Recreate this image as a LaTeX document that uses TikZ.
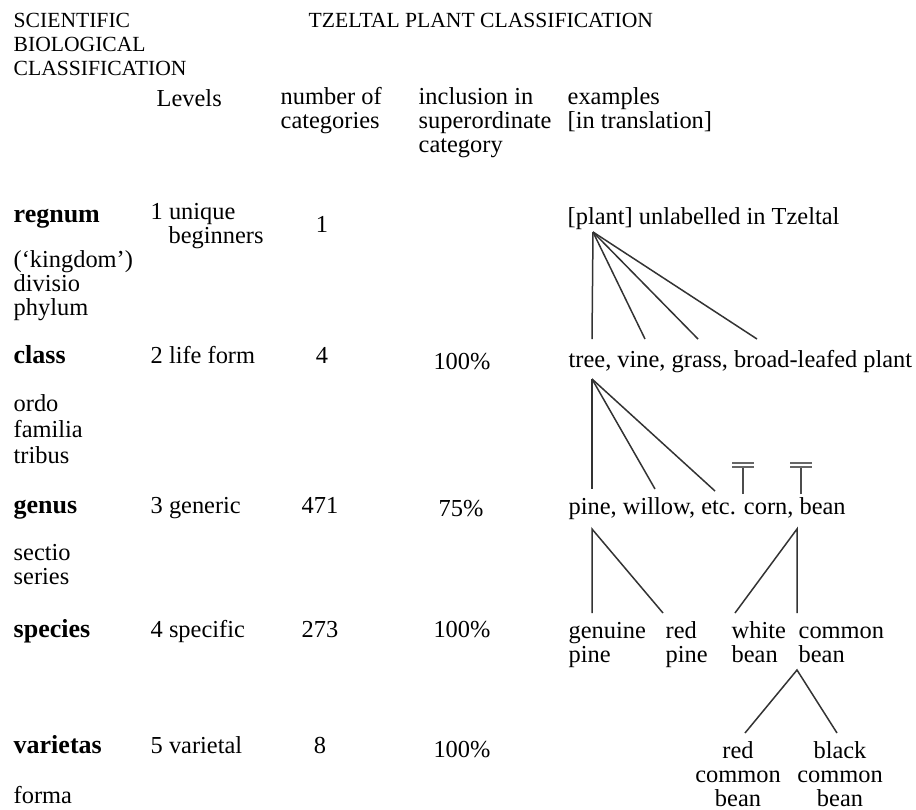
\documentclass[tikz,border=0pt]{standalone}
\usepackage{fontspec}
\setmainfont{Liberation Serif}
\usetikzlibrary{positioning}

\begin{document}
\begin{tikzpicture}[x=0.5pt,y=-0.5pt,line width=0.7pt,
                font={\fontsize{12.2}{11.8}\selectfont},
                txt/.style={inner sep=0pt,anchor=base west,align=left},
                head/.style={txt,font={\fontsize{10.8}{11.8}\selectfont}},
                rank/.style={txt,font={\fontsize{13}{11.8}\selectfont\bfseries}},
                num/.style={inner sep=0pt,anchor=base},
                branch/.style={draw=black!80,line width=0.75pt}]
                \useasboundingbox (0,0) rectangle (916,809);
                % headings (multi-line nodes sit on their last line)
                \node[head] (sci) at (13,75) {SCIENTIFIC\\BIOLOGICAL\\CLASSIFICATION};
                \node[head] (tzeltal) at (308,27) {TZELTAL PLANT CLASSIFICATION};
                \node[txt] (levels) at (156,106) {Levels};
                \node[txt] (number) at (280,128) {number of\\categories};
                \node[txt] (inclusion) at (418,152) {inclusion in\\superordinate\\category};
                \node[txt] (examples) at (567,128) {examples\\{[in translation]}};
                % left columns
                \node[rank] (regnum) at (13,222) {regnum};
                \node[txt] (kingdom) at (13,315) {(`kingdom')\\divisio\\phylum};
                \node[rank] (class) at (13,363) {class};
                \node[txt] (ordo) at (13,463) {ordo\\[1pt]familia\\[1pt]tribus};
                \node[rank] (genus) at (13,513) {genus};
                \node[txt] (sectio) at (13,584) {sectio\\series};
                \node[rank] (species) at (13,637) {species};
                \node[rank] (varietas) at (13,753) {varietas};
                \node[txt] (forma) at (13,803) {forma};
                \node[txt] (lev1) at (150,243) {1 unique\\\hspace*{9pt}beginners};
                \node[txt] (lev2) at (150,363) {2 life form};
                \node[txt] (lev3) at (150,513) {3 generic};
                \node[txt] (lev4) at (150,637) {4 specific};
                \node[txt] (lev5) at (150,753) {5 varietal};
                \node[num] (num1) at (322,232) {1};
                \node[num] (num2) at (322,363) {4};
                \node[num] (num3) at (320,513) {471};
                \node[num] (num4) at (320,637) {273};
                \node[num] (num5) at (320,753) {8};
                \node[num] (inc2) at (462,369) {100\%};
                \node[num] (inc3) at (461,516) {75\%};
                \node[num] (inc4) at (462,637) {100\%};
                \node[num] (inc5) at (462,757) {100\%};
                % examples
                \node[txt] (plant) at (567,224) {[plant] unlabelled in Tzeltal};
                \node[txt] (lifeforms) at (568,367) {tree, vine, grass, broad-leafed plant};
                \node[txt] (generics) at (568,514) {pine, willow, etc. corn, bean};
                \node[txt] (genpine) at (568,662) {genuine\\pine};
                \node[txt] (redpine) at (665,662) {red\\pine};
                \node[txt] (whitebean) at (731,662) {white\\bean};
                \node[txt] (combean) at (798,662) {common\\bean};
                \node[num,align=center] (redcom) at (738,806) {red\\common\\bean};
                \node[num,align=center] (blackcom) at (840,806) {black\\common\\bean};
                % branch points
                \coordinate (p0) at (593,232);
                \coordinate (tree) at (592,339);
                \coordinate (vine) at (645,339);
                \coordinate (grass) at (698,339);
                \coordinate (broad) at (757,339);
                \coordinate (t0) at (592,379);
                \coordinate (pine) at (592,489);
                \coordinate (willow) at (655,489);
                \coordinate (etc) at (715,491);
                \coordinate (pine0) at (592,529);
                \coordinate (pine1) at (592,613);
                \coordinate (pine2) at (663,613);
                \coordinate (bean0) at (797,529);
                \coordinate (bean1) at (735,613);
                \coordinate (bean2) at (797,613);
                \coordinate (cb0) at (797,670);
                \coordinate (cb1) at (745,733);
                \coordinate (cb2) at (837,733);
                \coordinate (corn) at (743,494);
                \coordinate (bean) at (801,494);
                \foreach \e in {tree,vine,grass,broad} \draw[branch] (p0) -- (\e);
                \foreach \e in {pine,willow,etc} \draw[branch] (t0) -- (\e);
                \draw[branch] (pine1) -- (pine0) -- (pine2);
                \draw[branch] (bean1) -- (bean0) -- (bean2);
                \draw[branch] (cb1) -- (cb0) -- (cb2);
                % unaffiliated generics
                \foreach \c in {corn,bean} {
                    \draw[branch,draw=black!60] ([xshift=-5.5pt,yshift=15.5pt]\c) -- ++(22,0);
                    \draw[branch,draw=black!60] ([xshift=-5.5pt,yshift=13.5pt]\c) -- ++(22,0);
                    \draw[branch,draw=black!70] (\c) -- ++(0,-26);
                }
            \end{tikzpicture}
\end{document}
